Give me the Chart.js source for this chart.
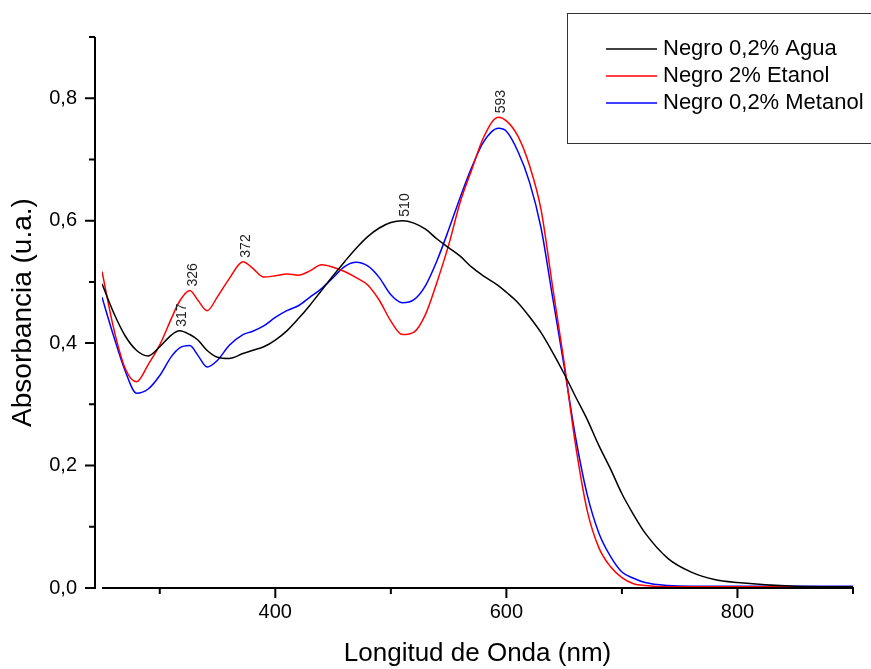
<!DOCTYPE html>
<html>
<head>
<meta charset="utf-8">
<script src="https://cdn.jsdelivr.net/npm/chart.js@4.4.1/dist/chart.umd.min.js"></script>
<style>
  body { margin: 0; background: #fff; }
  canvas { display: block; }
</style>
</head>
<body>
<canvas id="spectraChart" width="871" height="669"></canvas>
<script>
// wavelengths (nm) shared by the three spectra
const wavelengths = [250, 260, 270, 280, 290, 300, 310, 317, 326, 333, 341, 350, 360, 372, 380, 390,
    400, 410, 420, 430, 440, 450, 460, 470, 480, 490, 500, 510, 520, 530, 540, 550, 560, 570, 580,
    593, 600, 610, 620, 630, 640, 650, 660, 670, 680, 690, 700, 710, 720, 740, 760, 780, 800, 850, 900];

const aguaValues = [0.497, 0.450, 0.412, 0.388, 0.379, 0.394, 0.413, 0.420, 0.414, 0.405, 0.388, 0.377,
    0.375, 0.383, 0.388, 0.394, 0.405, 0.420, 0.440, 0.462, 0.486, 0.510, 0.533, 0.555, 0.574, 0.588,
    0.597, 0.600, 0.596, 0.586, 0.570, 0.556, 0.542, 0.524, 0.510, 0.494, 0.483, 0.466, 0.443, 0.417,
    0.385, 0.350, 0.312, 0.275, 0.233, 0.195, 0.154, 0.120, 0.090, 0.048, 0.026, 0.014, 0.009, 0.003, 0.002];

const etanolValues = [0.517, 0.425, 0.359, 0.337, 0.365, 0.397, 0.440, 0.468, 0.486, 0.470, 0.453, 0.476,
    0.505, 0.533, 0.523, 0.508, 0.510, 0.513, 0.511, 0.518, 0.528, 0.524, 0.517, 0.507, 0.495, 0.470,
    0.436, 0.414, 0.418, 0.447, 0.500, 0.560, 0.630, 0.683, 0.735, 0.769, 0.763, 0.738, 0.690, 0.618,
    0.492, 0.368, 0.232, 0.126, 0.066, 0.035, 0.017, 0.007, 0.004, 0.002, 0.002, 0.002, 0.002, 0.002, 0.002];

const metanolValues = [0.475, 0.412, 0.355, 0.318, 0.325, 0.347, 0.378, 0.392, 0.396, 0.380, 0.361, 0.372,
    0.396, 0.414, 0.419, 0.428, 0.442, 0.453, 0.461, 0.475, 0.489, 0.507, 0.525, 0.532, 0.526, 0.507,
    0.479, 0.466, 0.471, 0.494, 0.535, 0.585, 0.638, 0.687, 0.728, 0.751, 0.746, 0.713, 0.663, 0.588,
    0.475, 0.362, 0.245, 0.152, 0.090, 0.052, 0.026, 0.016, 0.009, 0.004, 0.003, 0.003, 0.003, 0.003, 0.003];

const seriesLabels = ['Negro 0,2% Agua', 'Negro 2% Etanol', 'Negro 0,2% Metanol'];
const seriesColors = ['#000000', '#ff0000', '#0000ff'];

// peak annotations: wavelength and the series index they sit on
const peakWavelengths = [317, 326, 372, 510, 593];
const peakSeries = [0, 1, 1, 0, 1];

const xMajorTicks = [400, 600, 800];
const xMinorTicks = [300, 500, 700, 900];
const yMajorTicks = [0, 0.2, 0.4, 0.6, 0.8];
const yMinorTicks = [0.1, 0.3, 0.5, 0.7, 0.9];

const allValues = [aguaValues, etanolValues, metanolValues];

Chart.defaults.font.family = '"Liberation Sans", Arial, sans-serif';
Chart.defaults.color = '#000';

const axesPlugin = {
    id: 'originAxes',
    afterDatasetsDraw(chart) {
        const ctx = chart.ctx;
        const x = chart.scales.x;
        const y = chart.scales.y;
        const y0 = y.getPixelForValue(0);
        const yAxisX = x.getPixelForValue(250) - 7;
        ctx.save();
        ctx.strokeStyle = '#000';
        ctx.lineWidth = 2;
        ctx.beginPath();
        ctx.moveTo(yAxisX, y0 + 1);
        ctx.lineTo(yAxisX, y.getPixelForValue(0.9));
        ctx.moveTo(x.getPixelForValue(250), y0);
        ctx.lineTo(x.getPixelForValue(900) + 1, y0);
        yMajorTicks.forEach(v => {
            const p = y.getPixelForValue(v);
            ctx.moveTo(yAxisX, p);
            ctx.lineTo(yAxisX - 10, p);
        });
        yMinorTicks.forEach(v => {
            const p = y.getPixelForValue(v);
            ctx.moveTo(yAxisX, p);
            ctx.lineTo(yAxisX - 6, p);
        });
        xMajorTicks.forEach(v => {
            const p = x.getPixelForValue(v);
            ctx.moveTo(p, y0);
            ctx.lineTo(p, y0 + 10);
        });
        xMinorTicks.forEach(v => {
            const p = x.getPixelForValue(v);
            ctx.moveTo(p, y0);
            ctx.lineTo(p, y0 + 6);
        });
        ctx.stroke();

        // peak labels, rotated
        ctx.fillStyle = '#222';
        ctx.font = '14px "Liberation Sans", Arial, sans-serif';
        ctx.textAlign = 'left';
        ctx.textBaseline = 'middle';
        peakWavelengths.forEach((w, i) => {
            const idx = wavelengths.indexOf(w);
            const val = allValues[peakSeries[i]][idx];
            const px = x.getPixelForValue(w);
            const py = y.getPixelForValue(val);
            ctx.save();
            ctx.translate(px + 3, py - 4);
            ctx.rotate(-Math.PI / 2);
            ctx.fillText(String(w), 0, 0);
            ctx.restore();
        });

        // legend box
        ctx.strokeStyle = '#333';
        ctx.lineWidth = 1;
        ctx.strokeRect(567.5, 13.5, 320, 130);
        ctx.font = '22px "Liberation Sans", Arial, sans-serif';
        ctx.fillStyle = '#000';
        chart.data.datasets.forEach((ds, i) => {
            const ly = 49 + i * 27;
            ctx.strokeStyle = ds.borderColor;
            ctx.lineWidth = 1.5;
            ctx.beginPath();
            ctx.moveTo(606, ly);
            ctx.lineTo(657, ly);
            ctx.stroke();
            ctx.fillText(ds.label, 663, ly);
        });
        ctx.restore();
    }
};

function buildDataset(i) {
    return {
        label: seriesLabels[i],
        data: wavelengths.map((w, k) => ({ x: w, y: allValues[i][k] })),
        borderColor: seriesColors[i],
        backgroundColor: seriesColors[i],
        borderWidth: 1.5,
        pointRadius: 0,
        fill: false,
        cubicInterpolationMode: 'monotone'
    };
}

const chart = new Chart(document.getElementById('spectraChart'), {
    type: 'line',
    data: {
        datasets: [buildDataset(0), buildDataset(1), buildDataset(2)]
    },
    options: {
        responsive: false,
        animation: false,
        layout: { padding: { top: 33, right: 18, left: 0, bottom: 0 } },
        plugins: {
            legend: { display: false },
            tooltip: { enabled: false }
        },
        scales: {
            x: {
                type: 'linear',
                min: 250,
                max: 900,
                afterBuildTicks: scale => { scale.ticks = xMajorTicks.map(v => ({ value: v })); },
                afterFit: scale => { scale.height = 81; },
                grid: { display: false, drawTicks: false },
                border: { display: false },
                ticks: { padding: 12, font: { size: 20 }, color: '#000', callback: v => String(v) },
                title: {
                    display: true,
                    text: 'Longitud de Onda (nm)',
                    font: { size: 26 },
                    color: '#000',
                    padding: { top: 0, bottom: 0 }
                }
            },
            y: {
                min: 0,
                max: 0.9,
                afterBuildTicks: scale => { scale.ticks = yMajorTicks.map(v => ({ value: v })); },
                afterFit: scale => { scale.width = 102; },
                grid: { display: false, drawTicks: false },
                border: { display: false },
                ticks: { padding: 25, font: { size: 20 }, color: '#000', callback: v => v.toFixed(1).replace('.', ',') },
                title: {
                    display: true,
                    text: 'Absorbancia (u.a.)',
                    font: { size: 28 },
                    color: '#000',
                    padding: { top: 6, bottom: 0 }
                }
            }
        }
    },
    plugins: [axesPlugin]
});
</script>
</body>
</html>
